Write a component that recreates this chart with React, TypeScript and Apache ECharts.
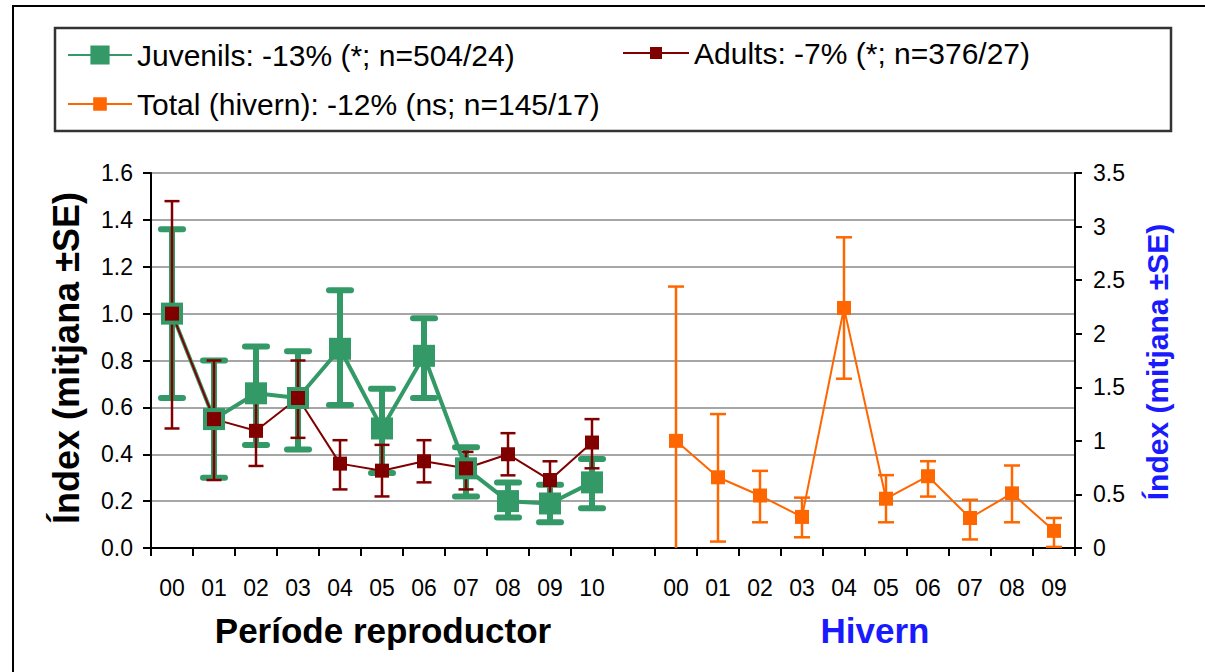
import React, { useEffect, useRef } from "react";
import * as echarts from "echarts";

// ---- Data ----
const breedingYears = ["00", "01", "02", "03", "04", "05", "06", "07", "08", "09", "10"];
const winterYears = ["00", "01", "02", "03", "04", "05", "06", "07", "08", "09"];

const juvMean = [1.0, 0.55, 0.66, 0.64, 0.85, 0.51, 0.82, 0.34, 0.2, 0.19, 0.28];
const juvLow = [0.64, 0.3, 0.44, 0.42, 0.61, 0.32, 0.64, 0.22, 0.13, 0.11, 0.17];
const juvHigh = [1.36, 0.8, 0.86, 0.84, 1.1, 0.68, 0.98, 0.43, 0.28, 0.27, 0.38];

const adMean = [1.0, 0.55, 0.5, 0.64, 0.36, 0.33, 0.37, 0.34, 0.4, 0.29, 0.45];
const adLow = [0.51, 0.29, 0.35, 0.47, 0.25, 0.22, 0.28, 0.25, 0.31, 0.21, 0.34];
const adHigh = [1.48, 0.8, 0.64, 0.8, 0.46, 0.44, 0.46, 0.41, 0.49, 0.37, 0.55];

const totMean = [1.0, 0.66, 0.49, 0.29, 2.24, 0.46, 0.67, 0.28, 0.51, 0.16];
const totLow = [-0.44, 0.06, 0.24, 0.1, 1.58, 0.24, 0.48, 0.08, 0.24, 0.01];
const totHigh = [2.44, 1.25, 0.72, 0.47, 2.9, 0.68, 0.81, 0.45, 0.77, 0.28];

const leftTicks = { min: 0, max: 1.6, interval: 0.2 };
const rightTicks = { min: 0, max: 3.5, interval: 0.5 };

const nameJuv = "Juvenils: -13% (*; n=504/24)";
const nameAd = "Adults: -7% (*; n=376/27)";
const nameTot = "Total (hivern): -12% (ns; n=145/17)";

const GREEN = "#339966";
const RED = "#800000";
const ORANGE = "#FF6600";
const BLUE = "#1a1aff";
const FONT = "'Liberation Sans', Arial, sans-serif";

// categories: breeding, gap, winter (winter prefixed to keep unique)
const categories = [...breedingYears, "", ...winterYears.map((y) => "H" + y)];
const winterOffset = breedingYears.length + 1;

function padSeries(values: number[], offset: number): (number | string)[] {
  const arr: (number | string)[] = categories.map(() => "-");
  values.forEach((v, i) => (arr[offset + i] = v));
  return arr;
}

function errData(low: number[], high: number[], offset: number) {
  return low.map((l, i) => [offset + i, l, high[i]]);
}

function makeErrSeries(
  data: number[][],
  color: string,
  lineWidth: number,
  capWidth: number,
  capLineWidth: number,
  round: boolean,
  yAxisIndex: number
) {
  return {
    type: "custom",
    yAxisIndex,
    clip: true,
    silent: true,
    data,
    renderItem: (params: any, api: any) => {
      const x = api.value(0);
      const lo = api.value(1);
      const hi = api.value(2);
      const top = api.coord([x, hi]);
      const bot = api.coord([x, lo]);
      const hw = capWidth / 2;
      const cap = round ? "round" : "butt";
      return {
        type: "group",
        children: [
          {
            type: "line",
            shape: { x1: top[0], y1: top[1], x2: bot[0], y2: bot[1] },
            style: { stroke: color, lineWidth },
          },
          {
            type: "line",
            shape: { x1: top[0] - hw, y1: top[1], x2: top[0] + hw, y2: top[1] },
            style: { stroke: color, lineWidth: capLineWidth, lineCap: cap },
          },
          {
            type: "line",
            shape: { x1: bot[0] - hw, y1: bot[1], x2: bot[0] + hw, y2: bot[1] },
            style: { stroke: color, lineWidth: capLineWidth, lineCap: cap },
          },
        ],
      };
    },
  };
}

export default function App() {
  const ref = useRef<HTMLDivElement>(null);

  useEffect(() => {
    if (!ref.current) return;
    const chart = echarts.init(ref.current, null, { renderer: "svg" });

    const legendText = { fontSize: 30, fontFamily: FONT, color: "#000" };

    const option: any = {
      animation: false,
      backgroundColor: "#fff",
      grid: { left: 151, right: 130, top: 173, bottom: 124 },
      legend: [
        {
          data: [nameJuv],
          left: 62,
          top: 35,
          itemWidth: 64,
          itemHeight: 24,
          itemGap: 4,
          textStyle: legendText,
          selectedMode: false,
        },
        {
          data: [nameAd],
          left: 617,
          top: 33,
          itemWidth: 66,
          itemHeight: 15,
          textStyle: legendText,
          selectedMode: false,
        },
        {
          data: [nameTot],
          left: 62,
          top: 84,
          itemWidth: 64,
          itemHeight: 17,
          textStyle: legendText,
          selectedMode: false,
        },
      ],
      xAxis: {
        type: "category",
        data: categories,
        boundaryGap: true,
        axisLine: { show: true, lineStyle: { color: "#000", width: 2 } },
        axisTick: { show: true, length: 8, interval: 0, lineStyle: { color: "#000", width: 2 } },
        axisLabel: {
          interval: 0,
          fontSize: 23,
          fontFamily: FONT,
          color: "#000",
          margin: 28,
          formatter: (v: string) => v.replace("H", ""),
        },
        splitLine: { show: false },
      },
      yAxis: [
        {
          type: "value",
          min: leftTicks.min,
          max: leftTicks.max,
          interval: leftTicks.interval,
          axisLine: { show: true, lineStyle: { color: "#000", width: 2 } },
          axisTick: { show: true, length: 8, lineStyle: { color: "#000", width: 2 } },
          axisLabel: {
            fontSize: 23,
            fontFamily: FONT,
            color: "#000",
            margin: 18,
            formatter: (v: number) => v.toFixed(1),
          },
          splitLine: { show: true, lineStyle: { color: "#a6a6a6", width: 2 } },
        },
        {
          type: "value",
          position: "right",
          min: rightTicks.min,
          max: rightTicks.max,
          interval: rightTicks.interval,
          axisLine: { show: true, lineStyle: { color: "#000", width: 2 } },
          axisTick: { show: true, length: 7, lineStyle: { color: "#000", width: 2 } },
          axisLabel: {
            fontSize: 23,
            fontFamily: FONT,
            color: "#000",
            margin: 18,
          },
          splitLine: { show: false },
        },
      ],
      series: [
        makeErrSeries(errData(juvLow, juvHigh, 0), GREEN, 6, 22, 6, true, 0),
        {
          name: nameJuv,
          type: "line",
          yAxisIndex: 0,
          data: padSeries(juvMean, 0),
          symbol: "rect",
          symbolSize: 22,
          showAllSymbol: true,
          lineStyle: { color: GREEN, width: 4 },
          itemStyle: { color: GREEN },
          emphasis: { disabled: true },
        },
        makeErrSeries(errData(adLow, adHigh, 0), RED, 2.5, 15, 2.5, false, 0),
        {
          name: nameAd,
          type: "line",
          yAxisIndex: 0,
          data: padSeries(adMean, 0),
          symbol: "rect",
          symbolSize: 14,
          showAllSymbol: true,
          lineStyle: { color: RED, width: 2 },
          itemStyle: { color: RED },
          emphasis: { disabled: true },
        },
        makeErrSeries(errData(totLow, totHigh, winterOffset), ORANGE, 2.5, 16, 2.5, false, 1),
        {
          name: nameTot,
          type: "line",
          yAxisIndex: 1,
          data: padSeries(totMean, winterOffset),
          symbol: "rect",
          symbolSize: 14,
          showAllSymbol: true,
          lineStyle: { color: ORANGE, width: 2 },
          itemStyle: { color: ORANGE },
          emphasis: { disabled: true },
        },
      ],
      graphic: [
        {
          type: "rect",
          shape: { x: 13, y: 6, width: 1400, height: 900 },
          style: { fill: "none", stroke: "#000", lineWidth: 2 },
          silent: true,
          z: -1,
        },
        {
          type: "rect",
          shape: { x: 55, y: 28, width: 1116, height: 103 },
          style: { fill: "none", stroke: "#333", lineWidth: 2.5 },
          silent: true,
          z: -1,
        },
        {
          type: "text",
          x: 66,
          y: 358,
          rotation: Math.PI / 2,
          style: {
            text: "Índex (mitjana ±SE)",
            fontSize: 36,
            fontWeight: "bold",
            fontFamily: FONT,
            fill: "#000",
            align: "center",
            verticalAlign: "middle",
          },
        },
        {
          type: "text",
          x: 1157,
          y: 362,
          rotation: Math.PI / 2,
          style: {
            text: "Índex (mitjana ±SE)",
            fontSize: 30,
            fontWeight: "bold",
            fontFamily: FONT,
            fill: BLUE,
            align: "center",
            verticalAlign: "middle",
          },
        },
        {
          type: "text",
          x: 383,
          y: 630,
          style: {
            text: "Període reproductor",
            fontSize: 35,
            fontWeight: "bold",
            fontFamily: FONT,
            fill: "#000",
            align: "center",
            verticalAlign: "middle",
          },
        },
        {
          type: "text",
          x: 875,
          y: 630,
          style: {
            text: "Hivern",
            fontSize: 35,
            fontWeight: "bold",
            fontFamily: FONT,
            fill: BLUE,
            align: "center",
            verticalAlign: "middle",
          },
        },
      ],
    };

    chart.setOption(option);
    return () => chart.dispose();
  }, []);

  return (
    <div
      ref={ref}
      style={{ position: "fixed", left: 0, top: 0, width: 1205, height: 672, background: "#fff" }}
    />
  );
}
